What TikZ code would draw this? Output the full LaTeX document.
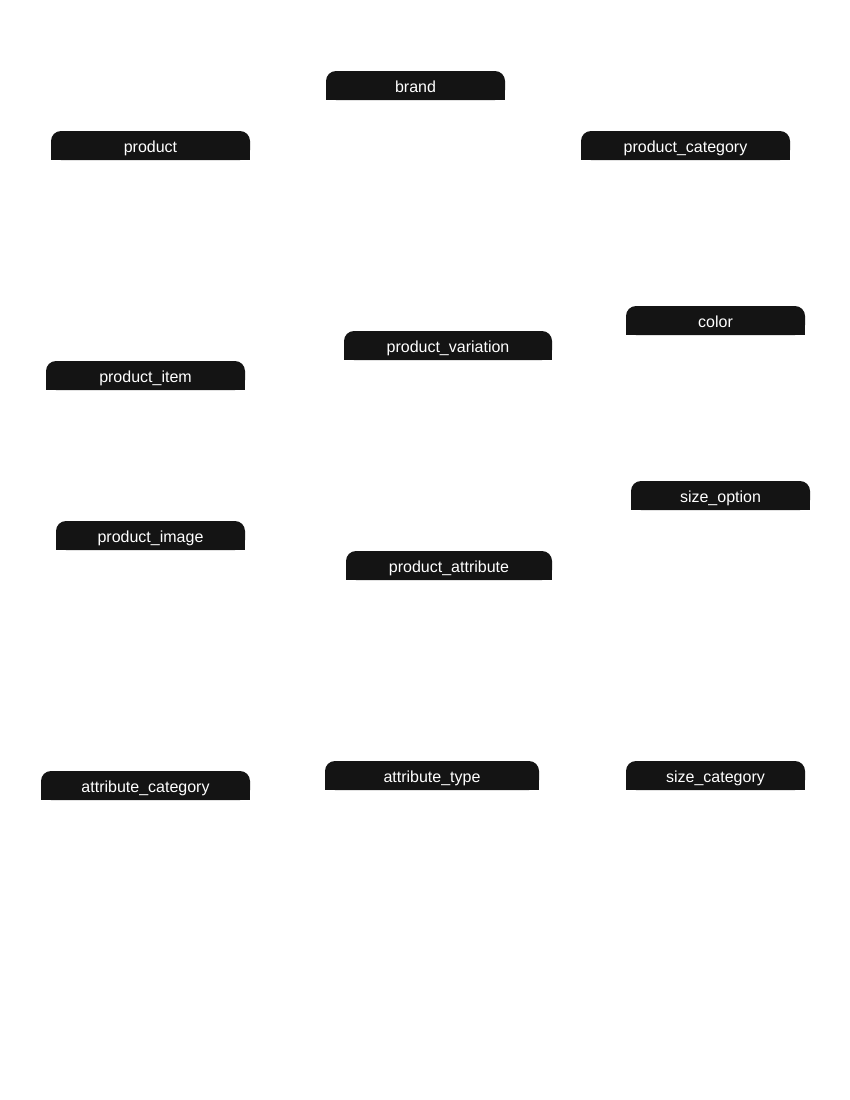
\documentclass[tikz,border=0pt]{standalone}
\usepackage{fontspec}
\setmainfont{Liberation Sans}
\usetikzlibrary{positioning,backgrounds}

\definecolor{hdrblack}{HTML}{141414}

\tikzset{
  tblhead/.style={fill=hdrblack, text=white, rounded corners=10pt,
    minimum height=29pt, inner sep=0pt, text height=15pt, text depth=1.5pt,
    font=\fontsize{16}{19}\selectfont},
  tblfoot/.style={fill=hdrblack}
}

\begin{document}
\begin{tikzpicture}[x=1pt, y=-1pt, line cap=round, line join=round]
\useasboundingbox (0,0) rectangle (850,1100);

% left column
\node[tblhead, minimum width=199pt] (product) at (150.5,145.5) {product};
\node[tblhead, minimum width=199pt] (item) at (145.5,375.5) {product\_item};
\node[tblhead, minimum width=189pt] (image) at (150.5,535.5) {product\_image};
\node[tblhead, minimum width=209pt] (attrcat) at (145.5,785.5) {attribute\_category};

% middle column
\node[tblhead, minimum width=179pt] (brand) at (415.5,85.5) {brand};
\node[tblhead, minimum width=208pt] (variation) at (448,345.5) {product\_variation};
\node[tblhead, minimum width=206pt] (attribute) at (449,565.5) {product\_attribute};
\node[tblhead, minimum width=214pt] (attrtype) at (432,775.5) {attribute\_type};

% right column
\node[tblhead, minimum width=209pt] (category) at (685.5,145.5) {product\_category};
\node[tblhead, minimum width=179pt] (color) at (715.5,320.5) {color};
\node[tblhead, minimum width=179pt] (sizeopt) at (720.5,495.5) {size\_option};
\node[tblhead, minimum width=179pt] (sizecat) at (715.5,775.5) {size\_category};

% page and square bottom corners, behind the headers
\begin{pgfonlayer}{background}
\fill[white] (0,0) rectangle (850,1100);
\foreach \n in {product,item,image,attrcat,brand,variation,attribute,attrtype,category,color,sizeopt,sizecat}
  \fill[tblfoot] (\n.west) rectangle (\n.south east);
\end{pgfonlayer}
\end{tikzpicture}
\end{document}
